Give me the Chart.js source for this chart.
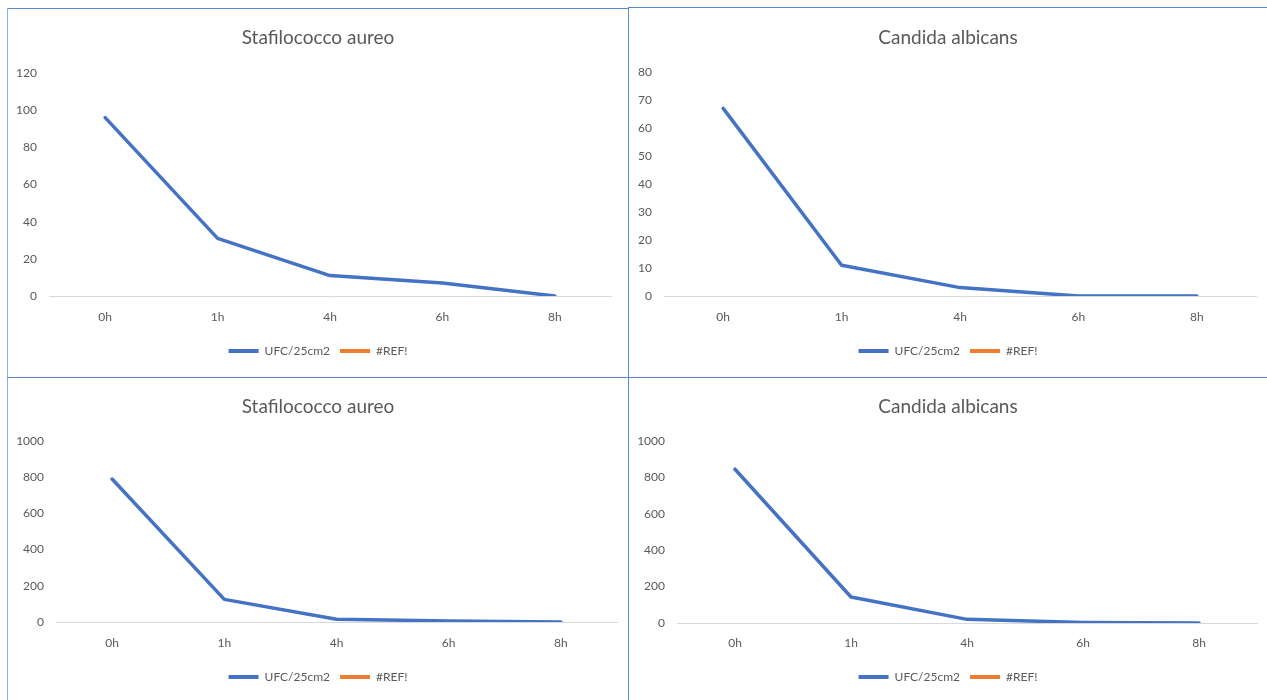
<!DOCTYPE html>
<html>
<head>
<meta charset="utf-8">
<script src="https://cdn.jsdelivr.net/npm/chart.js"></script>
<style>
  html, body { margin: 0; padding: 0; background: #fff; width: 1267px; height: 700px; overflow: hidden; }
  .panel { position: absolute; box-sizing: border-box; }
  .panel canvas { position: absolute; left: 0; top: 0; }
  .line { position: absolute; background: #5b86d3; }
</style>
</head>
<body>
<div class="line" style="left:7px; top:8px; width:621px; height:1px;"></div>
<div class="line" style="left:628px; top:7px; width:639px; height:1px;"></div>
<div class="line" style="left:7px; top:8px; width:1px; height:692px; background:#8fb0e6;"></div>
<div class="line" style="left:628px; top:7px; width:1px; height:693px;"></div>
<div class="line" style="left:7px; top:377px; width:1260px; height:1px;"></div>

<div class="panel" style="left:8px; top:9px; width:620px; height:368px;"><canvas id="c1"></canvas></div>
<div class="panel" style="left:629px; top:8px; width:638px; height:369px;"><canvas id="c2"></canvas></div>
<div class="panel" style="left:8px; top:378px; width:620px; height:322px;"><canvas id="c3"></canvas></div>
<div class="panel" style="left:629px; top:378px; width:638px; height:322px;"><canvas id="c4"></canvas></div>

<script>
// ---- Data ----
const categories = ['0h', '1h', '4h', '6h', '8h'];
const seriesName = 'UFC/25cm2';
const refName = '#REF!';

const title1 = 'Stafilococco aureo';
const values1 = [96, 31, 11, 7, 0];
const yTicks1 = [0, 20, 40, 60, 80, 100, 120];

const title2 = 'Candida albicans';
const values2 = [67, 11, 3, 0, 0];
const yTicks2 = [0, 10, 20, 30, 40, 50, 60, 70, 80];

const title3 = 'Stafilococco aureo';
const values3 = [790, 125, 15, 6, 0];
const yTicks3 = [0, 200, 400, 600, 800, 1000];

const title4 = 'Candida albicans';
const values4 = [845, 143, 20, 3, 0];
const yTicks4 = [0, 200, 400, 600, 800, 1000];

const refValues = [null, null, null, null, null];

// ---- Styling ----
const FONT = 'Lato, "Open Sans", sans-serif';
const TEXT = '#595959';
const BLUE = '#4472C4';
const ORANGE = '#ED7D31';

function makeChart(id, w, h, title, values, yTicks, L) {
  const canvas = document.getElementById(id);
  canvas.width = w; canvas.height = h;
  canvas.style.width = w + 'px'; canvas.style.height = h + 'px';
  const titleSize = 19, titleLH = titleSize * 1.2;
  const tickSize = 12, tickLH = tickSize * 1.2;
  const legendPad = 10, legendItem = 12;
  const titlePadTop = L.titleY - titleLH / 2;
  const titlePadBottom = L.top - titlePadTop - titleLH;
  const legendBottomPad = h - L.legendY - (legendPad + legendItem / 2);
  const legendTop = h - legendBottomPad - (2 * legendPad + legendItem);
  const xAxisH = legendTop - L.bottom;
  const xTickPad = L.xLabelY - L.bottom - tickLH / 2;
  const yMax = yTicks[yTicks.length - 1];
  const yStep = yTicks[1] - yTicks[0];

  return new Chart(canvas, {
    type: 'line',
    data: {
      labels: categories,
      datasets: [
        { label: seriesName, data: values, borderColor: BLUE, backgroundColor: BLUE,
          borderWidth: 3.5, pointRadius: 0, pointHoverRadius: 0, tension: 0,
          borderCapStyle: 'round', borderJoinStyle: 'round', fill: false },
        { label: refName, data: refValues, borderColor: ORANGE, backgroundColor: ORANGE,
          borderWidth: 3.5, pointRadius: 0, fill: false }
      ]
    },
    options: {
      responsive: false,
      animation: false,
      devicePixelRatio: 1,
      layout: { padding: { left: 0, right: 0, top: 0, bottom: legendBottomPad } },
      plugins: {
        tooltip: { enabled: false },
        title: {
          display: true, text: title, color: TEXT,
          font: { family: FONT, size: titleSize, weight: 'normal' },
          padding: { top: titlePadTop, bottom: titlePadBottom }
        },
        legend: {
          display: true, position: 'bottom',
          labels: {
            color: TEXT, font: { family: FONT, size: tickSize },
            boxWidth: 30, boxHeight: 4, padding: legendPad,
            generateLabels(chart) {
              const items = Chart.defaults.plugins.legend.labels.generateLabels(chart);
              items.forEach(it => { it.lineWidth = 0; it.strokeStyle = 'transparent'; });
              return items;
            }
          }
        }
      },
      scales: {
        x: {
          type: 'category', offset: true,
          grid: { display: false, drawTicks: false },
          border: { display: true, color: '#D9D9D9', width: 1 },
          ticks: { color: TEXT, font: { family: FONT, size: tickSize }, padding: xTickPad, maxRotation: 0 },
          afterFit(s) { s.height = xAxisH; }
        },
        y: {
          min: 0, max: yMax,
          grid: { display: false, drawTicks: false },
          border: { display: false },
          ticks: { color: TEXT, font: { family: FONT, size: tickSize }, padding: 12, stepSize: yStep,
                   callback: v => String(v) },
          afterFit(s) { s.width = L.left; }
        },
        yR: {
          position: 'right', display: true,
          grid: { display: false, drawTicks: false },
          border: { display: false },
          ticks: { display: false },
          afterFit(s) { s.width = w - L.right; }
        }
      }
    }
  });
}

// Canvas-relative plot layouts
makeChart('c1', 620, 368, title1, values1, yTicks1,
  { left: 41, right: 603, top: 64, bottom: 287, titleY: 29, xLabelY: 308, legendY: 342 });
makeChart('c2', 638, 369, title2, values2, yTicks2,
  { left: 35, right: 627, top: 64, bottom: 288, titleY: 30, xLabelY: 309, legendY: 343 });
makeChart('c3', 620, 322, title3, values3, yTicks3,
  { left: 48, right: 609, top: 63, bottom: 244, titleY: 29, xLabelY: 265, legendY: 299 });
makeChart('c4', 638, 322, title4, values4, yTicks4,
  { left: 48, right: 628, top: 63, bottom: 245, titleY: 29, xLabelY: 265, legendY: 299 });
</script>
</body>
</html>
